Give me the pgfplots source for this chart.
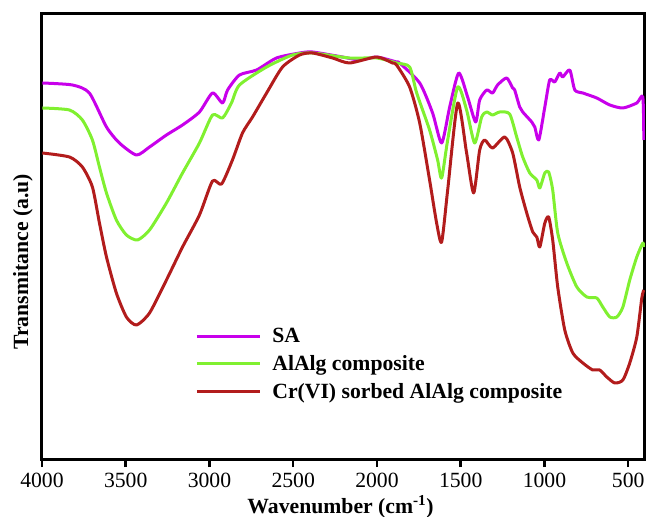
\documentclass[border=0pt]{standalone}
\usepackage{fontspec}
\setmainfont{Liberation Serif}
\usepackage{pgfplots}
\pgfplotsset{compat=1.18}
\definecolor{cSA}{RGB}{200,0,235}
\definecolor{cAl}{RGB}{128,240,48}
\definecolor{cCr}{RGB}{178,28,28}
\newcommand\f{\fontsize{21.7bp}{26bp}\selectfont}
\begin{document}
\begin{tikzpicture}
\path[use as bounding box] (-42bp,-58bp) rectangle (607bp,459bp);
\begin{axis}[
  scale only axis, width=603bp, height=445bp,
  x dir=reverse, xmin=400, xmax=4000, ymin=0, ymax=445,
  xtick={500,1000,1500,2000,2500,3000,3500,4000}, ytick=\empty,
  xtick pos=bottom, tick align=outside, major tick length=8bp,
  every tick/.style={black, line width=2.5bp},
  axis line style={line width=3bp},
  /pgf/number format/assume math mode=true,
  /pgf/number format/1000 sep={},
  ticklabel style={font=\f},
  xticklabel style={yshift=-3bp},
  xlabel={\textbf{Wavenumber (cm\textsuperscript{-1})}},
  ylabel={\textbf{Transmitance (a.u)}},
  label style={font=\f},
  xlabel style={at={(axis description cs:0.495,0)}, anchor=base, yshift=-54bp},
  ylabel style={at={(axis description cs:-0.0315,0.443)}, anchor=center},
  legend cell align=left,
  legend style={draw=none, fill=none, at={(axis description cs:0.254,0.298)}, anchor=north west, font=\bfseries\f, row sep=7bp, inner sep=0pt,
    /tikz/every odd column/.append style={column sep=9bp}},
  legend image code/.code={\draw[#1, line width=3bp] (0bp,0bp) -- (63bp,0bp);},
  every axis plot/.append style={line width=3bp, smooth, tension=0.4, line join=round},
]
\addplot[cSA] coordinates {
(3998,376)(3818,374)(3717,366)(3615,332)(3538,316)(3436,304)(3358,312)(3257,324)(3161,334)(3060,347)(2982,366)(2922,356)(2892,369)(2821,384)(2719,389)(2600,401)(2462,406)(2385,407)(2206,402)(2104,399)(2002,402)(1883,397)(1865,396)(1745,376)(1668,346)(1614,316)(1566,352)(1512,386)(1459,362)(1411,337)(1387,359)(1345,369)(1310,366)(1280,374)(1226,381)(1190,371)(1178,369)(1148,352)(1130,347)(1076,337)(1058,332)(1034,319)(998,352)(969,379)(939,377)(909,386)(891,382)(849,389)(819,369)(771,366)(688,361)(610,354)(532,351)(449,356)(413,362)(407,319)
};
\addlegendentry{SA}
\addplot[cAl] coordinates {
(3998,351)(3836,349)(3759,339)(3699,319)(3657,292)(3615,266)(3556,239)(3496,224)(3430,219)(3358,229)(3257,256)(3161,286)(3060,316)(2982,344)(2922,341)(2869,356)(2821,374)(2659,392)(2504,404)(2385,406)(2164,401)(2002,401)(1883,396)(1805,392)(1763,366)(1686,329)(1638,299)(1614,281)(1578,319)(1518,372)(1465,349)(1417,316)(1375,342)(1345,347)(1310,344)(1267,347)(1208,345)(1166,322)(1130,302)(1088,286)(1046,279)(1028,271)(998,286)(975,287)(951,269)(921,226)(867,196)(807,172)(747,162)(688,161)(652,152)(610,142)(568,142)(532,152)(491,179)(449,202)(413,216)(407,212)
};
\addlegendentry{AlAlg composite}
\addplot[cCr] coordinates {
(3998,306)(3836,302)(3759,292)(3699,272)(3657,236)(3615,202)(3556,166)(3496,142)(3436,134)(3358,146)(3257,179)(3161,212)(3060,244)(2982,278)(2928,275)(2863,299)(2803,326)(2743,342)(2659,366)(2564,392)(2462,404)(2385,406)(2265,401)(2164,396)(2002,402)(1907,396)(1883,394)(1805,372)(1745,336)(1686,279)(1644,236)(1614,217)(1578,269)(1518,356)(1465,306)(1423,266)(1387,309)(1357,319)(1310,311)(1237,322)(1190,306)(1148,272)(1106,246)(1070,227)(1046,222)(1028,212)(998,236)(975,242)(951,219)(921,172)(879,129)(831,106)(771,96)(712,89)(670,89)(628,82)(580,76)(532,79)(491,96)(449,122)(419,161)(407,169)
};
\addlegendentry{Cr(VI) sorbed AlAlg composite}
\end{axis}
\end{tikzpicture}
\end{document}
